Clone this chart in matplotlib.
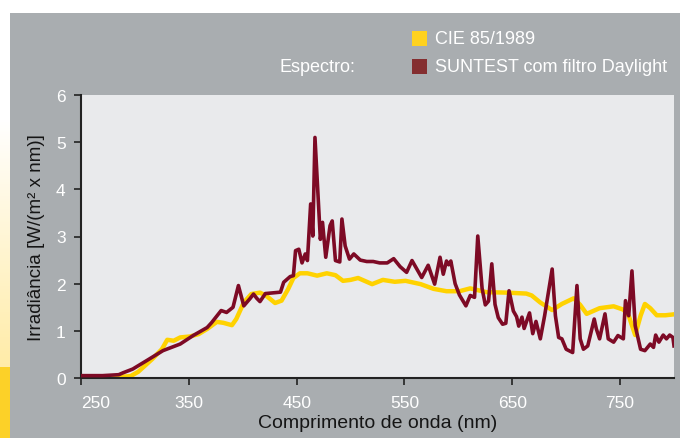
import numpy as np
from matplotlib import pyplot as plt
from matplotlib import font_manager
from matplotlib.patches import Rectangle

# CIE 85/1989 reference spectrum
cie_nm = [250, 280, 290, 296, 303, 316, 325, 330, 336, 342, 351, 359, 367, 376, 382,
          390, 394, 401, 408, 416, 422, 430, 436, 442, 447, 453, 460, 469, 478, 486,
          493, 500, 507, 513, 520, 530, 541, 551, 565, 577, 589, 601, 611, 626, 645,
          663, 668, 676, 687, 696, 707, 713, 719, 731, 744, 753, 758, 764, 769, 773,
          778, 784, 792, 800]
cie_val = [0.03, 0.03, 0.03, 0.04, 0.13, 0.40, 0.61, 0.81, 0.79, 0.86, 0.88, 0.93, 1.04, 1.19, 1.17,
           1.12, 1.25, 1.60, 1.78, 1.81, 1.74, 1.59, 1.64, 1.88, 2.12, 2.22, 2.22, 2.17, 2.22, 2.18,
           2.06, 2.08, 2.12, 2.06, 1.99, 2.08, 2.04, 2.06, 1.99, 1.89, 1.84, 1.84, 1.90, 1.82, 1.81,
           1.79, 1.75, 1.60, 1.44, 1.57, 1.69, 1.55, 1.36, 1.48, 1.52, 1.45, 1.32, 0.91, 1.32, 1.57,
           1.48, 1.33, 1.33, 1.35]

# SUNTEST with Daylight filter
sun_nm = [250, 270, 285, 289, 298, 311, 326, 342, 354, 367, 371, 380, 385, 391, 396,
          401, 407, 410, 413, 416, 421, 435, 438, 444, 447, 449, 452, 455, 458, 460,
          463, 465, 467, 472, 474, 477, 481, 483, 486, 490, 492, 495, 499, 503, 509,
          515, 521, 527, 534, 540, 546, 552, 557, 566, 572, 578, 583, 586, 589, 591,
          593, 597, 601, 607, 611, 615, 618, 622, 625, 628, 631, 634, 637, 641, 644,
          647, 651, 654, 656, 659, 661, 666, 669, 672, 676, 680, 687, 690, 693, 696,
          700, 706, 710, 713, 716, 720, 726, 728, 731, 736, 739, 744, 748, 753, 755,
          758, 761, 764, 769, 773, 778, 781, 783, 786, 790, 793, 796, 799, 800]
sun_val = [0.05, 0.05, 0.07, 0.11, 0.19, 0.37, 0.58, 0.72, 0.90, 1.07, 1.17, 1.43, 1.39, 1.50, 1.96,
           1.53, 1.69, 1.78, 1.69, 1.62, 1.79, 1.82, 2.03, 2.15, 2.17, 2.70, 2.73, 2.44, 2.63, 2.49,
           3.69, 3.01, 5.10, 2.94, 3.30, 2.56, 3.23, 3.33, 2.49, 2.46, 3.37, 2.80, 2.52, 2.63, 2.50,
           2.47, 2.47, 2.44, 2.44, 2.53, 2.36, 2.24, 2.49, 2.13, 2.39, 1.99, 2.56, 2.20, 2.48, 2.40,
           2.48, 2.00, 1.76, 1.53, 1.75, 1.71, 3.01, 1.90, 1.55, 1.63, 2.42, 1.56, 1.28, 1.14, 1.16,
           1.85, 1.42, 1.30, 1.10, 1.29, 1.05, 1.38, 0.94, 1.20, 0.83, 1.32, 2.31, 1.32, 0.86, 0.83,
           0.61, 0.54, 1.96, 0.83, 0.61, 0.68, 1.25, 1.04, 0.83, 1.36, 0.83, 0.76, 0.90, 0.83, 1.64,
           1.32, 2.27, 1.11, 0.61, 0.58, 0.72, 0.65, 0.91, 0.76, 0.91, 0.83, 0.91, 0.86, 0.68]

x_ticks = [250, 350, 450, 550, 650, 750]
y_ticks = [0, 1, 2, 3, 4, 5, 6]

names = {f.name for f in font_manager.fontManager.ttflist}
fam = 'Liberation Sans Narrow' if 'Liberation Sans Narrow' in names else 'Liberation Sans'
plt.rcParams['font.family'] = [fam, 'DejaVu Sans']

W, H = 680, 439
fig = plt.figure(figsize=(W / 100, H / 100), dpi=100, facecolor='#a9adb0')

# left strip: white fading to yellow
rows = np.arange(H)
t = np.clip((rows - 120) / (365 - 120), 0, 1)[:, None]
grad = (1 - t) * np.array([1.0, 1.0, 1.0]) + t * np.array([1.0, 0.925, 0.66])
grad[rows >= 368] = [0.99, 0.82, 0.16]
strip = fig.add_axes([0, 0, 10 / W, 1])
strip.imshow(grad[:, None, :], aspect='auto')
strip.axis('off')

fig.patches.append(Rectangle((0, 1 - 14 / H), 1, 14 / H, transform=fig.transFigure,
                             facecolor='white', edgecolor='none', zorder=5))

ax = fig.add_axes([81 / W, (H - 379) / H, (674 - 81) / W, (379 - 96) / H])
ax.set_facecolor('#e9eaec')
ax.plot(cie_nm, cie_val, color='#ffd200', lw=3.2, solid_joinstyle='round', zorder=2)
ax.plot(sun_nm, sun_val, color='#7d0a25', lw=2.6, solid_joinstyle='round', zorder=3)

ax.set_xlim(250, 800)
ax.set_ylim(0, 6)
ax.set_xticks(x_ticks)
ax.set_yticks(y_ticks)
ax.set_xticklabels([str(v) for v in x_ticks])
ax.get_xticklabels()[0].set_horizontalalignment('left')
ax.tick_params(axis='both', colors='#222222', labelcolor='white', labelsize=12.5,
               length=5, width=1.2, direction='out')
ax.tick_params(axis='x', pad=7)
ax.tick_params(axis='y', pad=6)
for s in ['top', 'right']:
    ax.spines[s].set_visible(False)
for s in ['left', 'bottom']:
    ax.spines[s].set_color('#222222')
    ax.spines[s].set_linewidth(1.5)

ax.set_xlabel('Comprimento de onda (nm)', fontsize=14, color='#151515', labelpad=3)
ax.set_ylabel('Irradiância [W/(m² x nm)]', fontsize=13.5, color='#151515', labelpad=8)

# legend
for yc, col in [(39.5, '#ffd21f'), (67.5, '#842e30')]:
    fig.patches.append(Rectangle((412 / W, 1 - (yc + 7.5) / H), 15 / W, 15 / H,
                                 transform=fig.transFigure, facecolor=col, edgecolor='none'))
fig.text(435 / W, 1 - 39.5 / H, 'CIE 85/1989', color='white', fontsize=13, va='center')
fig.text(435 / W, 1 - 67.5 / H, 'SUNTEST com filtro Daylight', color='white', fontsize=13,
         va='center')
fig.text(355 / W, 1 - 67.5 / H, 'Espectro:', color='white', fontsize=13, va='center',
         ha='right')

fig.savefig('out.png', dpi=100, facecolor=fig.get_facecolor())
